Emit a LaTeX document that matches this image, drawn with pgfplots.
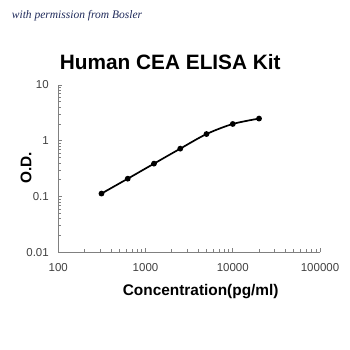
\documentclass[border=0pt]{standalone}
\usepackage{fontspec}
\setmainfont{Liberation Sans}
\newfontfamily\wmfont{Liberation Serif}
\usepackage{pgfplots}
\pgfplotsset{compat=1.18}
\definecolor{axgray}{HTML}{808080}
\definecolor{lblgray}{HTML}{404040}
\definecolor{wmblue}{HTML}{1F2A5A}
\begin{document}
\begin{tikzpicture}
\path (0pt,0pt) rectangle (350pt,350pt);
\begin{axis}[
  at={(58.3pt,97.7pt)}, anchor=south west,
  scale only axis, width=261.7pt, height=167.3pt,
  xmode=log, ymode=log,
  xmin=100, xmax=100000, ymin=0.01, ymax=10,
  axis x line=bottom, axis y line=left,
  axis line style={axgray, line width=0.8pt, -},
  xtick={100,1000,10000,100000},
  xticklabels={100,1000,10000,100000},
  ytick={0.01,0.1,1,10},
  yticklabels={0.01,0.1,1,10},
  minor xtick={200,300,400,500,600,700,800,900,2000,3000,4000,5000,6000,7000,8000,9000,20000,30000,40000,50000,60000,70000,80000,90000},
  minor ytick={0.02,0.03,0.04,0.05,0.06,0.07,0.08,0.09,0.2,0.3,0.4,0.5,0.6,0.7,0.8,0.9,2,3,4,5,6,7,8,9},
  tick align=inside,
  major tick length=4pt, minor tick length=3pt,
  tick style={axgray, line width=0.6pt},
  /pgf/number format/assume math mode=true,
  ticklabel style={font=\fontsize{11.5}{13}\selectfont, text=lblgray},
  xticklabel style={yshift=-8pt},
  yticklabel style={xshift=-6pt},
  clip=false,
]
\addplot[black, line width=1.7pt, smooth, mark=*, mark size=2pt] coordinates {
  (312.5,0.113) (625,0.209) (1250,0.389) (2500,0.722) (5000,1.32) (10000,2.0) (20000,2.5)
};
\end{axis}
\node[font=\fontsize{20.8}{24}\selectfont\bfseries] at (170.3pt,288pt) {Human CEA ELISA Kit};
\node[font=\fontsize{15.4}{18}\selectfont\bfseries] at (200.7pt,58.3pt) {Concentration(pg/ml)};
\node[font=\fontsize{15.4}{18}\selectfont\bfseries, rotate=90] at (26pt,182pt) {O.D.};
\node[anchor=west, inner sep=0pt, font=\wmfont\itshape\fontsize{11.5}{13}\selectfont, text=wmblue] at (11.7pt,334pt) {with permission from Bosler};
\end{tikzpicture}
\end{document}
